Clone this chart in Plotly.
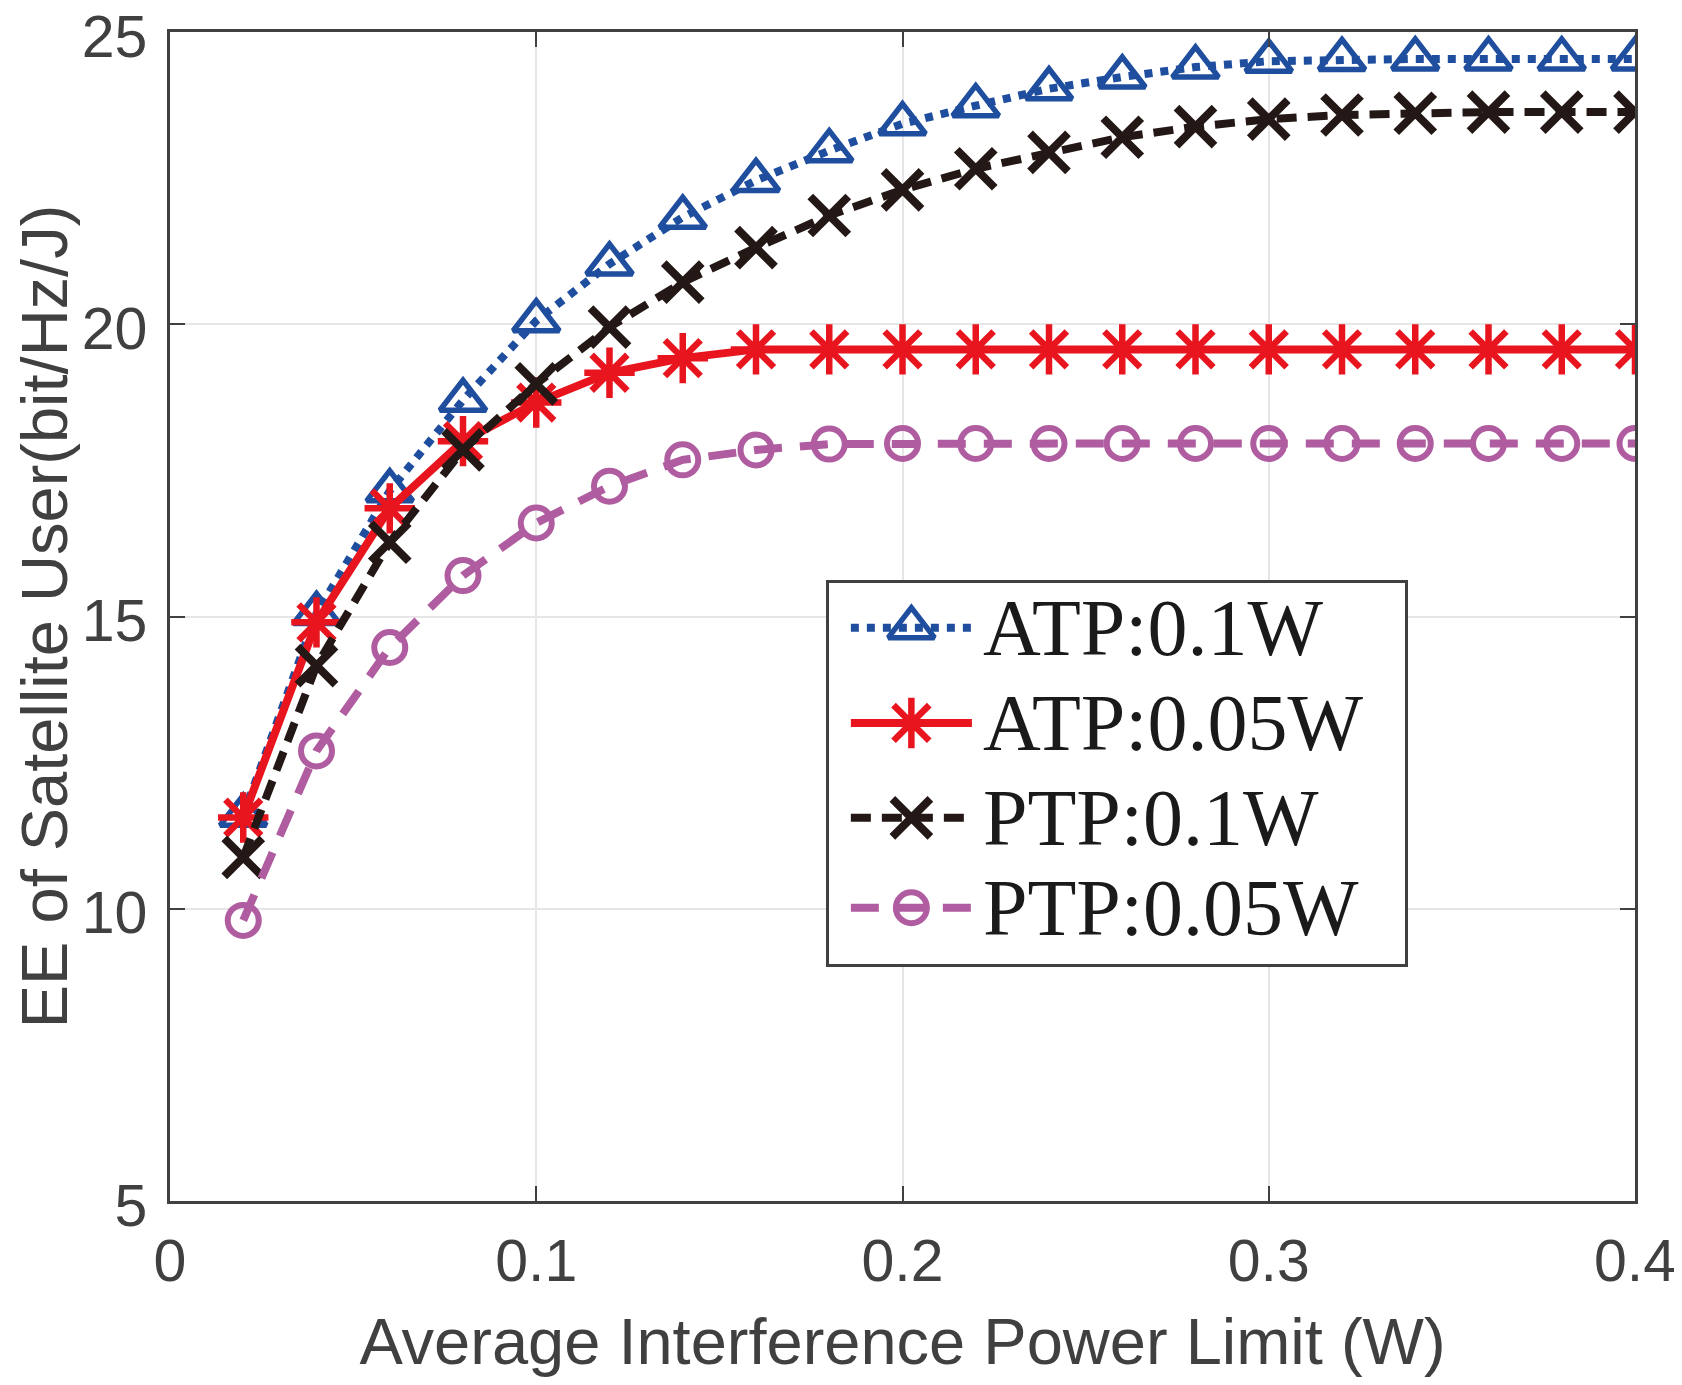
import plotly.graph_objects as go

# ---------------- data ----------------
x_limit = [0.02, 0.04, 0.06, 0.08, 0.10, 0.12, 0.14, 0.16, 0.18, 0.20,
           0.22, 0.24, 0.26, 0.28, 0.30, 0.32, 0.34, 0.36, 0.38, 0.40]
atp_01 = [11.60, 15.05, 17.15, 18.70, 20.06, 21.03, 21.83, 22.46, 22.97, 23.43,
          23.74, 24.03, 24.23, 24.40, 24.50, 24.53, 24.54, 24.54, 24.54, 24.54]
atp_005 = [11.56, 14.90, 16.85, 18.00, 18.66, 19.17, 19.42, 19.57, 19.57, 19.57,
           19.57, 19.57, 19.57, 19.57, 19.57, 19.57, 19.57, 19.57, 19.57, 19.57]
ptp_01 = [10.88, 14.16, 16.27, 17.85, 18.98, 19.95, 20.72, 21.31, 21.86, 22.30,
          22.66, 22.94, 23.20, 23.38, 23.51, 23.58, 23.61, 23.63, 23.63, 23.63]
ptp_005 = [9.80, 12.70, 14.47, 15.70, 16.60, 17.23, 17.68, 17.85, 17.95, 17.96,
           17.96, 17.96, 17.96, 17.96, 17.96, 17.96, 17.96, 17.96, 17.96, 17.96]

series_names = ["ATP:0.1W", "ATP:0.05W", "PTP:0.1W", "PTP:0.05W"]
series_values = [atp_01, atp_005, ptp_01, ptp_005]

x_ticks = [0, 0.1, 0.2, 0.3, 0.4]
x_tick_labels = ["0", "0.1", "0.2", "0.3", "0.4"]
y_ticks = [5, 10, 15, 20, 25]
y_tick_labels = ["5", "10", "15", "20", "25"]

# ---------------- styles ----------------
BLUE = "#1F4E9F"
RED = "#E8141E"
BLACK = "#231815"
PURPLE = "#B05CA0"
AXC = "#404040"

styles = [
    dict(color=BLUE, dash="8px,8px", symbol="triangle-up-open", size=40, mlw=5.5),
    dict(color=RED, dash="solid", symbol="asterisk-open", size=42, mlw=6.5),
    dict(color=BLACK, dash="20px,11px", symbol="x-thin-open", size=38, mlw=8),
    dict(color=PURPLE, dash="28px,18px", symbol="circle-open", size=31, mlw=6),
]
LINE_W = 8

fig = go.Figure()

for name, vals, st in zip(series_names, series_values, styles):
    fig.add_trace(go.Scatter(
        x=x_limit, y=vals, name=name, mode="lines+markers",
        line=dict(color=st["color"], width=LINE_W, dash=st["dash"]),
        marker=dict(symbol=st["symbol"], size=st["size"], color=st["color"],
                    line=dict(color=st["color"], width=st["mlw"])),
        showlegend=False, xaxis="x", yaxis="y",
    ))

# ---------------- custom legend (overlay subplot) ----------------
row_y = [0.882, 0.632, 0.383, 0.147]
sample_x = [0.038, 0.248]
marker_x = 0.143
text_x = 0.263
for name, st, ry in zip(series_names, styles, row_y):
    fig.add_trace(go.Scatter(
        x=sample_x, y=[ry, ry], mode="lines",
        line=dict(color=st["color"], width=LINE_W, dash=st["dash"]),
        showlegend=False, hoverinfo="skip", xaxis="x2", yaxis="y2",
    ))
    fig.add_trace(go.Scatter(
        x=[marker_x], y=[ry], mode="markers",
        marker=dict(symbol=st["symbol"], size=st["size"], color=st["color"],
                    line=dict(color=st["color"], width=st["mlw"])),
        showlegend=False, hoverinfo="skip", xaxis="x2", yaxis="y2",
    ))
    fig.add_annotation(
        x=text_x, y=ry, xref="x2", yref="y2", text=name, showarrow=False,
        xanchor="left", yanchor="middle",
        font=dict(family="Liberation Serif", size=80, color="#1A1A1A"),
    )

axis_common = dict(
    showline=True, linecolor=AXC, linewidth=2.5, mirror="ticks",
    ticks="inside", ticklen=15, tickwidth=2, tickcolor=AXC,
    showgrid=True, gridcolor="#E6E6E6", gridwidth=2, zeroline=False,
    tickfont=dict(family="Liberation Sans", size=59, color=AXC),
    automargin=False, ticklabeloverflow="allow",
)

# page body adds an 8px margin, so the figure is sized/offset to compensate
fig.update_layout(
    width=1674, height=1377,
    margin=dict(l=162, r=47, t=24, b=184),
    paper_bgcolor="white", plot_bgcolor="white",
    showlegend=False,
    xaxis=dict(
        range=[0, 0.4], tickvals=x_ticks, ticktext=x_tick_labels,
        title=dict(text="Average Interference Power Limit (W)", standoff=26,
                   font=dict(family="Liberation Sans", size=65, color=AXC)),
        ticklabelstandoff=6,
        **axis_common,
    ),
    yaxis=dict(
        range=[5, 25], tickvals=y_ticks, ticktext=y_tick_labels,
        title=dict(text="EE of Satellite User(bit/Hz/J)", standoff=20,
                   font=dict(family="Liberation Sans", size=65, color=AXC)),
        ticklabelstandoff=8, ticklabelshift=4,
        **axis_common,
    ),
    xaxis2=dict(domain=[0.4498, 0.8432], anchor="y2", range=[0, 1],
                showgrid=False, zeroline=False, showticklabels=False, ticks="",
                showline=True, mirror=True, linecolor=AXC, linewidth=2.5,
                fixedrange=True),
    yaxis2=dict(domain=[0.2029, 0.5289], anchor="x2", range=[0, 1],
                showgrid=False, zeroline=False, showticklabels=False, ticks="",
                showline=True, mirror=True, linecolor=AXC, linewidth=2.5,
                fixedrange=True),
)

fig.write_html("out.html")
